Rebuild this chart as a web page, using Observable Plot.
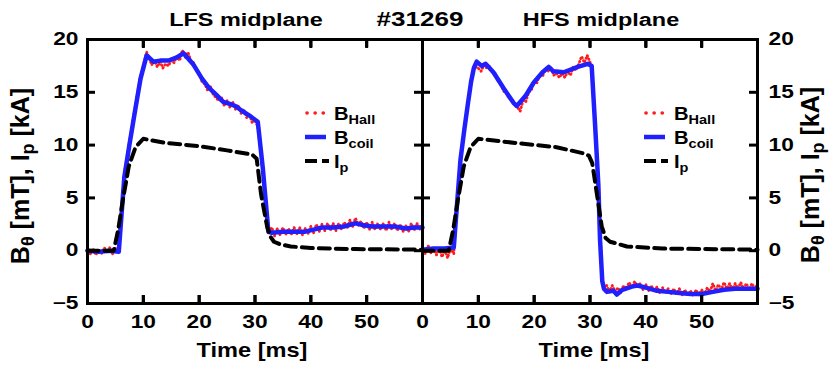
<!DOCTYPE html>
<html><head><meta charset="utf-8">
<script src="https://cdn.jsdelivr.net/npm/d3@7"></script>
<script src="https://cdn.jsdelivr.net/npm/@observablehq/plot@0.6"></script>
<style>
body{margin:0;background:#fff;}
#wrap{position:relative;width:831px;height:369px;overflow:hidden;font-family:"Liberation Sans",Arial,sans-serif;font-weight:bold;color:#000;}
.abs{position:absolute;white-space:nowrap;}
.sub{font-size:0.72em;position:relative;top:0.3em;}
</style></head><body><div id="wrap"></div>
<script>
// ---------- data ----------
const panelTitles = ["LFS midplane", "HFS midplane"];
const shotLabel = "#31269";
const xLabel = "Time [ms]";
const yLabelHtml = 'B<span class="sub">θ</span> [mT], I<span class="sub">p</span> [kA]';
const xTicks = [0, 10, 20, 30, 40, 50];
const yTicks = [-5, 0, 5, 10, 15, 20];
const legendNames = ["Hall", "coil", "p"];
const legendBases = ["B", "B", "I"];

// LFS midplane
const lfsCoilT = [0, 2, 4, 5.6, 6.6, 7.5, 8.5, 9.5, 10.6, 11.8, 13, 14.5, 16, 17.2, 19, 20.5, 21.8, 23, 24.3, 25.5, 26.5, 27.5, 29, 30.5, 31.4, 32.4, 33, 35, 37, 39, 40.5, 42, 44, 46, 48, 49.5, 51, 53, 55, 57, 58.5, 60];
const lfsCoil  = [0, -0.1, 0, -0.1, 7.0, 10.0, 13.2, 16.3, 18.5, 17.9, 18.0, 18.0, 18.3, 18.7, 17.6, 16.3, 15.4, 14.8, 14.1, 13.9, 13.7, 13.3, 12.8, 12.2, 7.8, 1.8, 1.7, 1.8, 1.8, 1.8, 2.0, 2.2, 2.2, 2.3, 2.6, 2.4, 2.3, 2.3, 2.3, 2.1, 2.2, 2.2];
const lfsHallT = [0, 0.5, 1, 1.5, 2, 2.5, 3, 3.5, 4, 4.5, 5, 5.6, 6.6, 7.5, 8.5, 9.5, 10.6, 11, 11.5, 12, 12.5, 13, 13.5, 14, 14.5, 15, 15.5, 16, 16.5, 17, 17.5, 18, 18.5, 19, 19.5, 20, 20.5, 21, 21.5, 22, 22.5, 23, 23.5, 24, 24.5, 25, 25.5, 26, 26.5, 27, 27.5, 28, 28.5, 29, 29.5, 30, 30.5, 31.4, 32.4,
  33, 33.5, 34, 34.5, 35, 35.5, 36, 36.5, 37, 37.5, 38, 38.5, 39, 39.5, 40, 40.5, 41, 41.5, 42, 42.5, 43, 43.5, 44, 44.5, 45, 45.5, 46, 46.5, 47, 47.5, 48, 48.5, 49, 49.5, 50, 50.5, 51, 51.5, 52, 52.5, 53, 53.5, 54, 54.5, 55, 55.5, 56, 56.5, 57, 57.5, 58, 58.5, 59, 59.5, 60];
const lfsHall  = [0.3, -0.3, 0.2, -0.4, 0.1, -0.3, 0.3, -0.2, 0.3, -0.3, 0.2, 0.1, 7.3, 10.3, 13.5, 16.6, 18.8, 18.3, 17.6, 18.0, 17.4, 17.9, 17.3, 17.7, 17.5, 18.0, 17.8, 18.4, 18.0, 19.0, 18.3, 18.8, 18.0, 17.8, 17.1, 16.9, 16.0, 15.8, 15.2, 15.6, 14.8, 14.5, 14.2, 14.5, 13.7, 14.2, 13.6, 14.1, 13.4, 13.8, 13.0, 13.4, 12.6, 13.0, 12.1, 12.4, 11.7, 7.6, 1.6,
  2.2, 1.4, 2.1, 1.5, 2.2, 1.5, 2.1, 1.5, 2.2, 1.6, 2.2, 1.5, 2.1, 1.6, 2.3, 1.7, 2.5, 1.8, 2.5, 1.9, 2.6, 1.9, 2.6, 1.9, 2.6, 2.0, 2.7, 2.1, 2.9, 2.3, 3.1, 2.4, 2.8, 2.1, 2.7, 2.0, 2.7, 2.0, 2.6, 2.0, 2.6, 1.9, 2.7, 2.0, 2.6, 1.9, 2.5, 1.8, 2.4, 1.8, 2.6, 1.9, 2.6, 2.0, 2.5];
const lfsIpT = [0, 4.7, 5.5, 6.4, 7.4, 8.6, 10, 14, 20, 25, 29.5, 30.3, 31.1, 32.2, 32.8, 33.4, 34.5, 36.4, 40, 48, 60];
const lfsIp  = [0, 0, 2.0, 5.0, 8.0, 9.8, 10.6, 10.2, 9.9, 9.5, 9.1, 8.7, 5.3, 2.2, 1.3, 0.85, 0.6, 0.4, 0.25, 0.15, 0.1];

// HFS midplane
const hfsCoilT = [0, 2, 4, 5.6, 6.2, 6.8, 7.5, 8.1, 8.7, 9.2, 9.7, 10.6, 11.3, 12.7, 14.5, 16.3, 16.9, 18.5, 19.9, 21.5, 22.6, 23.4, 25.3, 27.8, 29.6, 30.3, 30.9, 31.5, 31.8, 32.2, 32.5, 33, 34.2, 34.8, 35.8, 37.5, 38.5, 40, 42, 44, 46, 48, 50, 52, 54, 56, 58, 60];
const hfsCoil  = [0.1, 0.2, 0.2, 0.3, 4.5, 8.6, 11.5, 13.8, 16.0, 17.3, 17.9, 17.5, 17.7, 16.9, 15.4, 14.0, 13.7, 14.7, 15.9, 16.9, 17.4, 17.0, 16.9, 17.4, 17.7, 17.5, 12.0, 6.2, 1.0, -2.9, -3.6, -3.9, -3.8, -4.15, -3.7, -3.4, -3.3, -3.5, -3.8, -3.9, -4.0, -4.1, -4.1, -3.9, -3.7, -3.6, -3.6, -3.6];
const hfsHallT = [0, 0.5, 1, 1.5, 2, 2.5, 3, 3.5, 4, 4.5, 5, 5.6, 6.2, 6.8, 7.5, 8.1, 8.7, 9.2, 9.8, 10.5, 11, 11.5, 12, 12.5, 13, 13.5, 14, 14.5, 15, 15.5, 16, 16.5, 17, 17.5, 18, 18.5, 19, 19.5, 20, 20.5, 21, 21.5, 22, 22.5, 23, 23.5, 24, 24.5, 25, 25.5, 26, 26.5, 27, 27.5, 28, 28.5, 29, 29.5, 30.2, 30.9, 31.5, 32.2, 32.6,
  33, 33.5, 34, 34.5, 35, 35.5, 36, 36.5, 37, 37.5, 38, 38.5, 39, 39.5, 40, 40.5, 41, 41.5, 42, 42.5, 43, 43.5, 44, 44.5, 45, 45.5, 46, 46.5, 47, 47.5, 48, 48.5, 49, 49.5, 50, 50.5, 51, 51.5, 52, 52.5, 53, 53.5, 54, 54.5, 55, 55.5, 56, 56.5, 57, 57.5, 58, 58.5, 59, 59.5, 60];
const hfsHall  = [0.4, -0.3, 0.5, -0.2, 0.3, -0.4, 0.2, -0.6, 0.1, -0.7, 0.2, -0.3, 4.5, 8.6, 11.5, 13.8, 16.0, 17.3, 17.4, 17.0, 17.6, 17.3, 17.5, 16.9, 16.8, 16.1, 15.9, 15.1, 15.0, 14.4, 14.4, 13.8, 13.6, 13.2, 14.2, 14.1, 15.0, 15.2, 16.0, 15.9, 16.7, 16.5, 17.2, 17.0, 17.4, 16.6, 16.8, 16.4, 16.8, 16.4, 17.0, 16.6, 17.4, 17.1, 17.7, 18.4, 17.8, 18.5, 17.6, 12.0, 6.2, -2.9, -3.4,
  -3.3, -3.9, -3.3, -3.9, -3.5, -4.0, -3.3, -3.6, -3.0, -3.5, -2.9, -3.4, -3.1, -3.7, -3.2, -3.8, -3.3, -3.9, -3.4, -4.0, -3.5, -4.0, -3.6, -4.1, -3.6, -4.1, -3.6, -4.2, -3.7, -4.2, -3.8, -4.3, -3.7, -4.2, -3.7, -4.1, -3.5, -3.9, -3.1, -3.8, -3.2, -3.7, -3.0, -3.6, -3.1, -3.7, -3.1, -3.6, -3.0, -3.6, -3.1, -3.7, -3.1, -3.6, -3.2];
const hfsIpT = [0, 4.7, 5.5, 6.4, 7.4, 8.6, 10, 15, 24, 29, 29.8, 30.4, 31.2, 32.1, 32.8, 33.6, 36.6, 43, 60];
const hfsIp  = [0, 0, 2.0, 5.0, 8.0, 9.8, 10.6, 10.3, 9.8, 9.2, 9.0, 8.3, 5.5, 2.3, 1.2, 0.85, 0.4, 0.2, 0.1];

// ---------- tables for Plot (one facet per panel) ----------
const rows = (panel, T, V) => T.map((t, i) => ({panel, t, v: V[i]}));
const hall = [...rows(panelTitles[0], lfsHallT, lfsHall), ...rows(panelTitles[1], hfsHallT, hfsHall)];
const coil = [...rows(panelTitles[0], lfsCoilT, lfsCoil), ...rows(panelTitles[1], hfsCoilT, hfsCoil)];
const ip   = [...rows(panelTitles[0], lfsIpT, lfsIp),     ...rows(panelTitles[1], hfsIpT, hfsIp)];

// ---------- layout ----------
const wrap = document.getElementById("wrap");
const W = 831, H = 369;
const M = {top: 39, bottom: 66, left: 87, right: 74};
const FRAME_H = H - M.top - M.bottom;                 // 264
const FACET_W = (W - M.left - M.right) / 2;           // 335
const TICK = 8;
const FONT = '"Liberation Sans", Arial, sans-serif';
const tickStyle = {stroke: "#000", strokeWidth: 3};
const labelStyle = {tickSize: 0, fontSize: 17.5, fontWeight: "bold", fontFamily: FONT, label: null};

const svg = Plot.plot({
  width: W, height: H,
  marginTop: M.top, marginBottom: M.bottom, marginLeft: M.left, marginRight: M.right,
  fx: {domain: panelTitles, padding: 0, axis: null, label: null},
  x: {domain: [0, 60]},
  y: {domain: [-5, 20]},
  marks: [
    Plot.line(hall, {fx: "panel", x: "t", y: "v", stroke: "#ff1c1c", strokeWidth: 2.8, strokeDasharray: "0.5,3", strokeLinecap: "round"}),
    Plot.line(coil, {fx: "panel", x: "t", y: "v", stroke: "#2020ff", strokeWidth: 4.5, strokeLinejoin: "round"}),
    Plot.line(ip,   {fx: "panel", x: "t", y: "v", stroke: "#000", strokeWidth: 4, strokeDasharray: "11,6"}),
    Plot.frame({stroke: "#000", strokeWidth: 3}),
    // inward ticks on all four sides of every panel
    Plot.ruleX(xTicks, {x: d => d, insetTop: FRAME_H - TICK, ...tickStyle}),
    Plot.ruleX(xTicks, {x: d => d, insetBottom: FRAME_H - TICK, ...tickStyle}),
    Plot.ruleY(yTicks, {y: d => d, insetRight: FACET_W - TICK, ...tickStyle}),
    Plot.ruleY(yTicks, {y: d => d, insetLeft: FACET_W - TICK, ...tickStyle}),
    Plot.axisX({anchor: "top", ticks: xTicks, tickSize: TICK, dy: TICK, fill: "none", ...tickStyle, label: null}),
    Plot.axisX({anchor: "bottom", ticks: xTicks, tickSize: TICK, dy: -TICK, fill: "none", ...tickStyle, label: null}),
    // tick labels
    Plot.axisX({anchor: "bottom", ticks: xTicks, tickPadding: 12, ...labelStyle}),
    Plot.axisY({anchor: "left", ticks: yTicks, tickPadding: 9, ...labelStyle}),
    Plot.axisY({anchor: "right", ticks: yTicks, tickPadding: 11, ...labelStyle})
  ]
});
// the reference's lettering is horizontally stretched
svg.querySelectorAll('[aria-label$="tick label"] text').forEach(t => {
  const tr = t.getAttribute("transform");
  if (tr) t.setAttribute("transform", tr + " scale(1.3,1)");
  else {
    const x = +t.getAttribute("x") || 0, y = +t.getAttribute("y") || 0;
    t.removeAttribute("x"); t.removeAttribute("y");
    t.setAttribute("transform", `translate(${x},${y}) scale(1.3,1)`);
  }
});
wrap.appendChild(svg);

function addText(html, {x, y, size, sx = 1, anchor = "middle"}) {
  const d = document.createElement("div");
  d.className = "abs";
  d.innerHTML = html;
  d.style.fontSize = size + "px";
  d.style.lineHeight = size + "px";
  d.style.left = x + "px";
  d.style.top = (y - 0.8465 * size) + "px";
  const tx = anchor === "middle" ? "-50%" : anchor === "end" ? "-100%" : "0";
  d.style.transformOrigin = anchor === "middle" ? "50% 50%" : anchor === "end" ? "100% 50%" : "0 50%";
  d.style.transform = `translateX(${tx}) scaleX(${sx})`;
  wrap.appendChild(d);
}

function addRotated(html, {cx, cy, size}) {
  const d = document.createElement("div");
  d.className = "abs";
  d.innerHTML = html;
  d.style.fontSize = size + "px";
  d.style.lineHeight = size + "px";
  d.style.left = cx + "px";
  d.style.top = cy + "px";
  d.style.transformOrigin = "0 0";
  d.style.transform = "rotate(-90deg) translate(-50%,-50%)";
  wrap.appendChild(d);
}

function addLegend(x0, textX) {
  const rowsY = [113, 137, 161];
  const styles = [
    `stroke="#ff1c1c" stroke-width="3.6" stroke-linecap="round" stroke-dasharray="0.1,8" x1="2" x2="19"`,
    `stroke="#2020ff" stroke-width="4.5" x1="0" x2="21"`,
    `stroke="#000" stroke-width="4" stroke-dasharray="12,5" x1="0" x2="24"`
  ];
  rowsY.forEach((y, i) => {
    const s = document.createElement("div");
    s.className = "abs";
    s.style.left = x0 + "px";
    s.style.top = (y - 5) + "px";
    s.innerHTML = `<svg width="26" height="10" style="display:block"><line y1="5" y2="5" ${styles[i]}/></svg>`;
    wrap.appendChild(s);
    addText(`${legendBases[i]}<span class="sub">${legendNames[i]}</span>`, {x: textX, y: y + 7, size: 18, sx: 1.12, anchor: "start"});
  });
}

addText(panelTitles[0], {x: 246, y: 27, size: 17.5, sx: 1.34});
addText(panelTitles[1], {x: 601, y: 27, size: 17.5, sx: 1.34});
addText(shotLabel, {x: 420, y: 26, size: 20, sx: 1.3});
addText(xLabel, {x: 252, y: 357, size: 20.5, sx: 1.15});
addText(xLabel, {x: 594, y: 357, size: 20.5, sx: 1.15});
addRotated(yLabelHtml, {cx: 22, cy: 176, size: 25});
addRotated(yLabelHtml, {cx: 812, cy: 175, size: 25});
addLegend(305, 334);
addLegend(644, 674);
</script>
</body></html>
